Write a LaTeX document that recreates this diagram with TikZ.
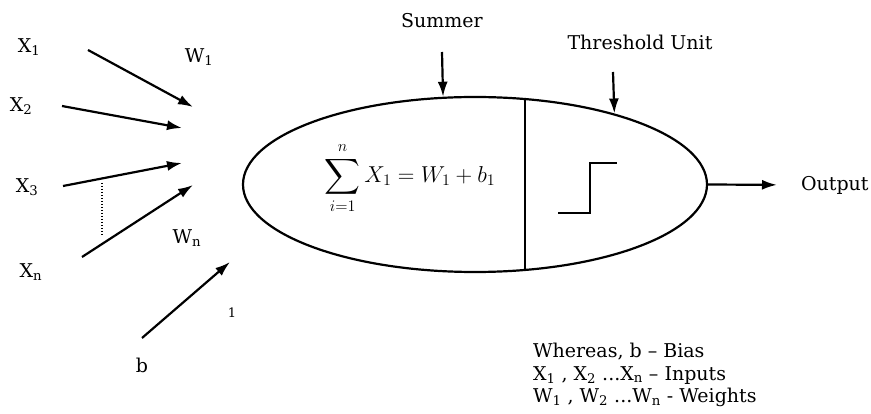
\RequirePackage{fix-cm}
\documentclass[tikz,border=0pt]{standalone}
\usepackage{amsmath}
\usepackage{fontspec}
\setmainfont{DejaVu Serif}
\usetikzlibrary{arrows.meta,shapes.geometric}
\begin{document}
\begin{tikzpicture}[x=1pt, y=-1pt, >={Latex[length=15pt,width=10pt]}, line width=2.2pt,
    every node/.style={font=\fontsize{19}{22.5}\selectfont, inner sep=0pt}]
    \useasboundingbox (0,0) rectangle (871,414);

    % inputs and weights
    \node (x1) at (29,47) {X\textsubscript{1}};
    \node (x2) at (21,106) {X\textsubscript{2}};
    \node (x3) at (27,187) {X\textsubscript{3}};
    \node (xn) at (31,272) {X\textsubscript{n}};
    \node (w1) at (199,57) {W\textsubscript{1}};
    \node (wn) at (187,238) {W\textsubscript{n}};
    \node (one) at (232,313) {\fontsize{13}{15}\selectfont 1};
    \node (b) at (142,365) {b};

    \foreach \name/\sx/\sy/\tx/\ty in {1/88/50/193/107, 2/62/106/182/128,
                             3/63/186/182/163, n/82/257/193/185, b/142/338/230/262} {
      \coordinate (s\name) at (\sx,\sy);
      \coordinate (t\name) at (\tx,\ty);
      \draw[->] (s\name) -- (t\name);
    }
    \draw[line width=1.5pt, dash pattern=on 1.5pt off 1.5pt] (102,183) -- (102,235);

    % neuron
    \node[draw, ellipse, minimum width=464pt, minimum height=175pt] (neuron) at (475,184.5) {};
    \draw (neuron.60.7) -- (neuron.-60.7);
    \node (sum) at (410,178) {\fontsize{23}{27}\selectfont$\displaystyle\sum_{i=1}^{n} X_1 = W_1 + b_1$};
    \draw (558,213) -- (590,213) -- (590,163) -- (617,163);

    \node (summer) at (442,21) {Summer};
    \coordinate (summertop) at (442,52);
    \draw[->] (summertop) -- (neuron.110.9);
    \node (threshold) at (640,42) {Threshold Unit};
    \coordinate (threshtop) at (613,72);
    \draw[->] (threshtop) -- (neuron.27);

    \node[anchor=west] (output) at (800,185) {Output};
    \draw[->, shorten >=23pt] (neuron.east) -- (output.west);

    % legend
    \node[anchor=west, align=left] (legend) at (532,375) {Whereas, b -- Bias\\
      X\textsubscript{1} , X\textsubscript{2} ...X\textsubscript{n} -- Inputs\\
      W\textsubscript{1} , W\textsubscript{2} ...W\textsubscript{n} - Weights};
\end{tikzpicture}
\end{document}
